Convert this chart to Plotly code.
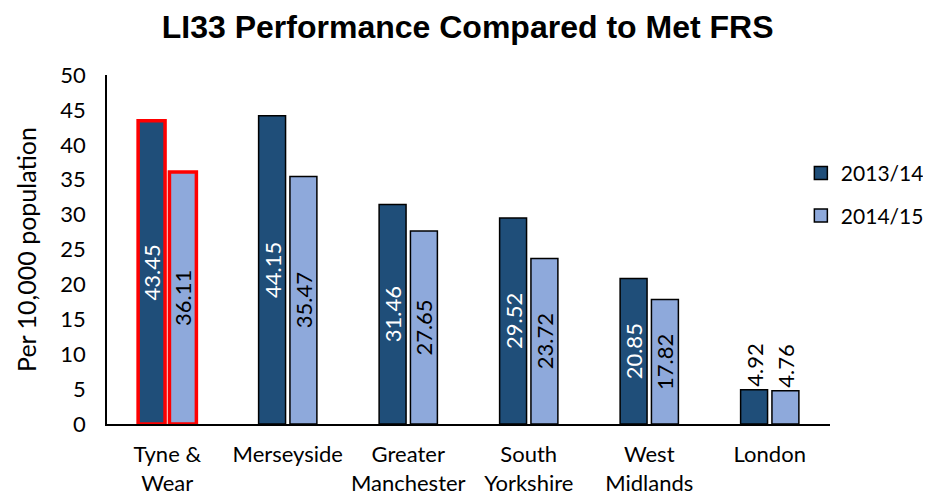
import plotly.graph_objects as go

categories = ["Tyne &<br>Wear", "Merseyside", "Greater<br>Manchester", "South<br>Yorkshire", "West<br>Midlands", "London"]
series_names = ["2013/14", "2014/15"]
values_2013 = [43.45, 44.15, 31.46, 29.52, 20.85, 4.92]
values_2014 = [36.11, 35.47, 27.65, 23.72, 17.82, 4.76]
y_ticks = [0, 5, 10, 15, 20, 25, 30, 35, 40, 45, 50]

dark = "#1F4E79"
light = "#8EA9DB"
font_main = "Lato"

def styles(vals):
    lc = ["#FF0000" if i == 0 else "#000000" for i in range(len(vals))]
    lw = [3.5 if i == 0 else 1.5 for i in range(len(vals))]
    pos = ["inside" if v > 10 else "outside" for v in vals]
    return lc, lw, pos

fig = go.Figure()
for name, vals, col, tcol in [(series_names[0], values_2013, dark, "white"),
                              (series_names[1], values_2014, light, "black")]:
    lc, lw, pos = styles(vals)
    fig.add_trace(go.Bar(
        x=categories, y=vals, name=name, showlegend=False,
        marker=dict(color=col, line=dict(color=lc, width=lw)),
        text=[f"{v:.2f}" for v in vals],
        textposition=pos, textangle=-90,
        insidetextanchor="middle",
        insidetextfont=dict(color=tcol, size=22, family=font_main),
        outsidetextfont=dict(color="black", size=22, family=font_main),
        cliponaxis=False,
    ))

# legend entries (no data drawn)
for i, (name, col) in enumerate([(series_names[0], dark), (series_names[1], light)]):
    fig.add_trace(go.Scatter(
        x=[categories[0]], y=[None], mode="markers", name=name,
        legendgroup=f"g{i}",
        marker=dict(symbol="square", size=13, color=col, line=dict(color="black", width=1.5)),
    ))

fig.update_layout(
    width=923, height=488,
    margin=dict(l=99, r=101, t=67, b=72, autoexpand=False),
    paper_bgcolor="white", plot_bgcolor="white",
    barmode="group", bargap=0.48, bargroupgap=0.14,
    title=dict(text="<b>LI33 Performance Compared to Met FRS</b>",
               x=0.498, xanchor="center", y=0.962, yanchor="middle",
               font=dict(family="Liberation Sans", size=32, color="black")),
    font=dict(family=font_main, size=21, color="black"),
    uniformtext=dict(minsize=21, mode="show"),
    legend=dict(xref="container", yref="container", x=0.859, y=0.703,
                xanchor="left", yanchor="top",
                font=dict(size=21, family=font_main),
                itemwidth=30, tracegroupgap=12, traceorder="grouped",
                bgcolor="rgba(0,0,0,0)"),
    showlegend=True,
)
fig.update_xaxes(showline=True, linecolor="black", linewidth=1.5, ticks="",
                 tickfont=dict(size=22, family=font_main), showgrid=False,
                 ticklabelstandoff=10, automargin=False)
fig.update_yaxes(range=[0, 50], tickvals=y_ticks, showline=True, linecolor="black", linewidth=1.5,
                 ticks="", showgrid=False, zeroline=False, automargin=False,
                 tickfont=dict(size=22, family=font_main), ticklabelstandoff=15,
                 title=dict(text="Per 10,000 population", font=dict(size=25, family=font_main), standoff=17))

fig.write_html("out.html")
